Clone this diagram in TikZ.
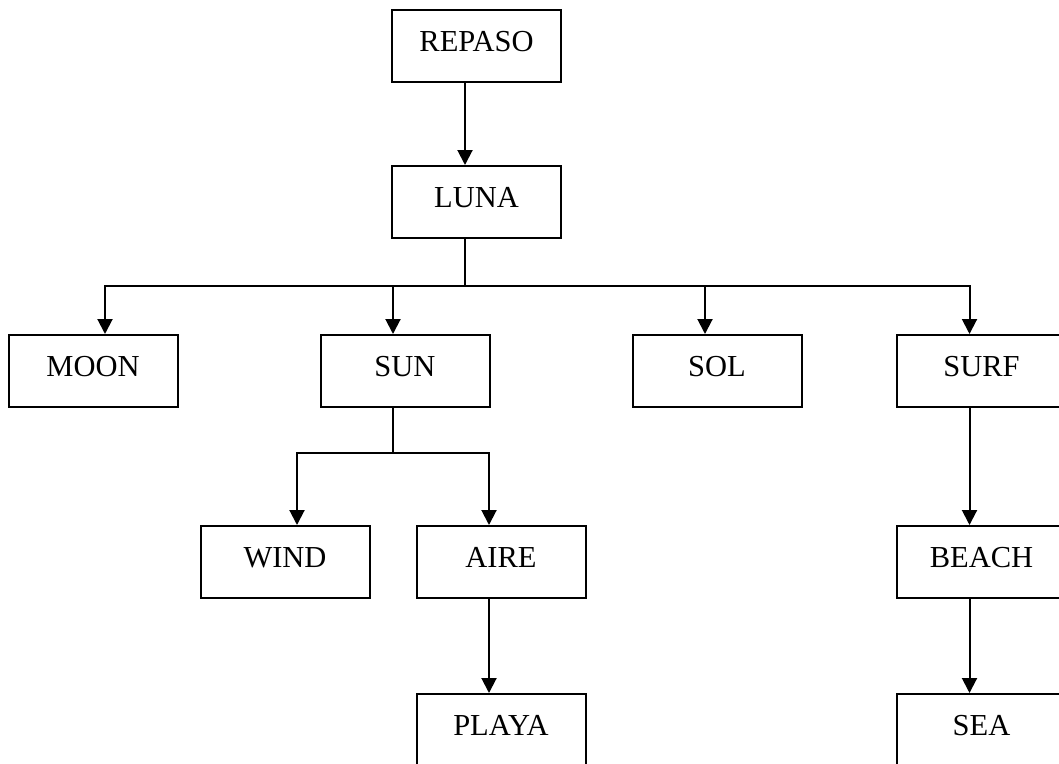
\documentclass[tikz,border=0pt]{standalone}
\usepackage{fontspec}
\setmainfont{Liberation Serif}
\usetikzlibrary{arrows.meta}
\begin{document}
\begin{tikzpicture}[x=1pt,y=-1pt,
  box/.style={draw=black,line width=2pt,minimum width=169pt,minimum height=72pt,
    inner sep=0pt,text height=20pt,text depth=10pt,
    font=\fontsize{30.5}{36}\selectfont},
  conn/.style={line width=2pt},
  arr/.style={conn,-{Triangle[width=15pt,length=15pt]}}]
\useasboundingbox (0,0) rectangle (1059,763);
\clip (0,0) rectangle (1059,763);
\fill[white] (0,0) rectangle (1059,763);
\node[box] (repaso) at (476.5,46) {REPASO};
\node[box] (luna) at (476.5,202) {LUNA};
\node[box] (moon) at (93,371) {MOON};
\node[box] (sun) at (405,371) {SUN};
\node[box] (sol) at (717,371) {SOL};
\node[box] (surf) at (981.5,371) {SURF};
\node[box] (wind) at (285,562) {WIND};
\node[box] (aire) at (501,562) {AIRE};
\node[box] (beach) at (981.5,562) {BEACH};
\node[box] (playa) at (501,730) {PLAYA};
\node[box] (sea) at (981.5,730) {SEA};
\coordinate (b1) at (465,286);
\coordinate (b2) at (393,453);
\draw[arr] ([xshift=-11.5pt]repaso.south) -- ([xshift=-11.5pt]luna.north);
\draw[conn] ([xshift=-11.5pt]luna.south) -- (b1);
\draw[arr] (b1) -| ([xshift=12pt]moon.north);
\draw[arr] (b1) -| ([xshift=-12pt]sun.north);
\draw[arr] (b1) -| ([xshift=-12pt]sol.north);
\draw[arr] (b1) -| ([xshift=-12pt]surf.north);
\draw[conn] ([xshift=-12pt]sun.south) -- (b2);
\draw[arr] (b2) -| ([xshift=12pt]wind.north);
\draw[arr] (b2) -| ([xshift=-12pt]aire.north);
\draw[arr] ([xshift=-12pt]aire.south) -- ([xshift=-12pt]playa.north);
\draw[arr] ([xshift=-12pt]surf.south) -- ([xshift=-12pt]beach.north);
\draw[arr] ([xshift=-12pt]beach.south) -- ([xshift=-12pt]sea.north);
\end{tikzpicture}
\end{document}
